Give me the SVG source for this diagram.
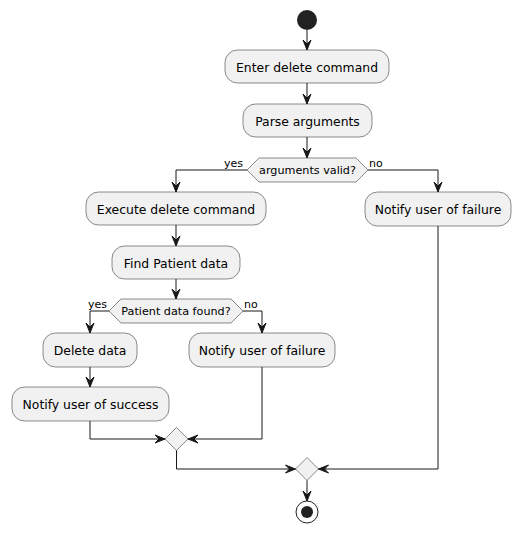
<svg xmlns="http://www.w3.org/2000/svg" width="521" height="533" viewBox="0 0 521 533">
<style>
.box{fill:#F1F1F1;stroke:#181818;stroke-width:0.5}
.dia{fill:#F1F1F1;stroke:#181818;stroke-width:0.5}
.t{font-family:"DejaVu Sans",sans-serif;font-size:12.4px;fill:#000;text-anchor:middle}
.dt{font-family:"DejaVu Sans",sans-serif;font-size:11.2px;fill:#000;text-anchor:middle}
.lbl{font-family:"DejaVu Sans",sans-serif;font-size:11px;fill:#000}
.ln{fill:none;stroke:#181818;stroke-width:1}
.ah{fill:#181818;stroke:#181818;stroke-width:1}
</style>
<rect width="521" height="533" fill="#FFFFFF"/>
<g id="start"><circle cx="307" cy="20" r="10" fill="#222222"/></g>
<g id="enter"><rect class="box" x="225" y="50" width="164" height="33" rx="12.5"/><text class="t" x="307" y="71.5">Enter delete command</text></g>
<g id="parse"><rect class="box" x="243" y="104" width="129" height="33" rx="12.5"/><text class="t" x="307.5" y="125.5">Parse arguments</text></g>
<g id="valid"><polygon class="dia" points="247,170 259,158 356,158 368,170 356,182 259,182"/><text class="dt" x="307.5" y="174">arguments valid?</text></g>
<g id="execute"><rect class="box" x="86" y="192" width="180" height="33" rx="12.5"/><text class="t" x="176" y="213.5">Execute delete command</text></g>
<g id="failure1"><rect class="box" x="365" y="192" width="146" height="34" rx="12.5"/><text class="t" x="438" y="213.5">Notify user of failure</text></g>
<g id="find"><rect class="box" x="112" y="246" width="128" height="33" rx="12.5"/><text class="t" x="176" y="267.5">Find Patient data</text></g>
<g id="found"><polygon class="dia" points="109,311 121,299 231,299 243,311 231,323 121,323"/><text class="dt" x="176" y="315">Patient data found?</text></g>
<g id="delete"><rect class="box" x="43" y="333" width="94" height="34" rx="12.5"/><text class="t" x="90" y="354.5">Delete data</text></g>
<g id="failure2"><rect class="box" x="189" y="333" width="146" height="34" rx="12.5"/><text class="t" x="262" y="354.5">Notify user of failure</text></g>
<g id="success"><rect class="box" x="12" y="387" width="157" height="34" rx="12.5"/><text class="t" x="90.5" y="408.5">Notify user of success</text></g>
<g id="merge1"><polygon class="dia" points="176.5,427.5 188,439 176.5,450.5 165,439"/></g>
<g id="merge2"><polygon class="dia" points="307,457.5 318.5,469 307,480.5 295.5,469"/></g>
<g id="end"><circle cx="307" cy="512" r="11" fill="none" stroke="#222222" stroke-width="1"/><circle cx="307" cy="512" r="6" fill="#222222"/></g>
<g id="connectors">
<path class="ln" d="M307,30 L307,50"/><polygon class="ah" points="303,40 307,50 311,40 307,44"/>
<path class="ln" d="M307,83 L307,104"/><polygon class="ah" points="303,94 307,104 311,94 307,98"/>
<path class="ln" d="M307,137 L307,158"/><polygon class="ah" points="303,148 307,158 311,148 307,152"/>
<path class="ln" d="M247,170 L176,170 L176,192"/><polygon class="ah" points="172,182 176,192 180,182 176,186"/>
<text class="lbl" x="224" y="167">yes</text>
<path class="ln" d="M368,170 L438,170 L438,192"/><polygon class="ah" points="434,182 438,192 442,182 438,186"/>
<text class="lbl" x="369" y="167">no</text>
<path class="ln" d="M176,225 L176,246"/><polygon class="ah" points="172,236 176,246 180,236 176,240"/>
<path class="ln" d="M176,279 L176,299"/><polygon class="ah" points="172,289 176,299 180,289 176,293"/>
<path class="ln" d="M109,311 L90,311 L90,333"/><polygon class="ah" points="86,323 90,333 94,323 90,327"/>
<text class="lbl" x="88" y="308">yes</text>
<path class="ln" d="M243,311 L262,311 L262,333"/><polygon class="ah" points="258,323 262,333 266,323 262,327"/>
<text class="lbl" x="244" y="308">no</text>
<path class="ln" d="M90,367 L90,387"/><polygon class="ah" points="86,377 90,387 94,377 90,381"/>
<path class="ln" d="M90,421 L90,439 L165,439"/><polygon class="ah" points="155,435 165,439 155,443 159,439"/>
<path class="ln" d="M262,367 L262,439 L188,439"/><polygon class="ah" points="198,435 188,439 198,443 194,439"/>
<path class="ln" d="M176.5,450.5 L176.5,469 L295.5,469"/><polygon class="ah" points="285.5,465 295.5,469 285.5,473 289.5,469"/>
<path class="ln" d="M438,226 L438,469 L318.5,469"/><polygon class="ah" points="328.5,465 318.5,469 328.5,473 324.5,469"/>
<path class="ln" d="M307,480.5 L307,501"/><polygon class="ah" points="303,491 307,501 311,491 307,495"/>
</g>
</svg>
